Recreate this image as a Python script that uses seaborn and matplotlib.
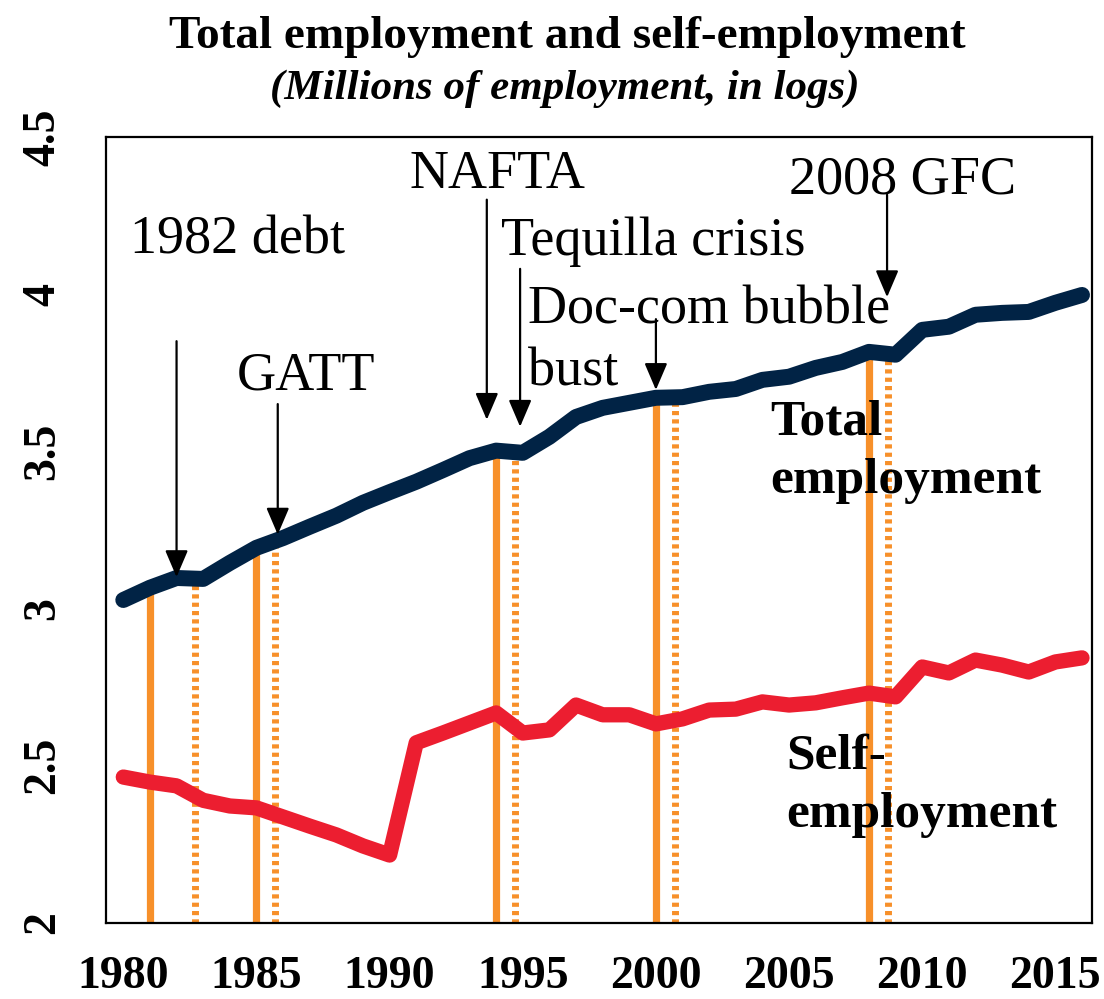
import matplotlib
matplotlib.use("Agg")
import matplotlib.pyplot as plt
import numpy as np
import pandas as pd
import seaborn as sns

years = list(range(1980, 2017))
total_emp = [3.027, 3.066, 3.097, 3.094, 3.145, 3.193, 3.224, 3.260, 3.295, 3.336,
             3.370, 3.403, 3.440, 3.478, 3.502, 3.495, 3.546, 3.609, 3.638, 3.654,
             3.670, 3.672, 3.689, 3.698, 3.727, 3.737, 3.765, 3.784, 3.816, 3.807,
             3.886, 3.896, 3.934, 3.940, 3.943, 3.972, 3.997]
self_emp = [2.464, 2.448, 2.436, 2.390, 2.372, 2.366, 2.337, 2.308, 2.280, 2.245,
            2.216, 2.573, 2.604, 2.636, 2.668, 2.604, 2.614, 2.693, 2.662, 2.662,
            2.633, 2.649, 2.677, 2.680, 2.703, 2.693, 2.700, 2.716, 2.731, 2.719,
            2.814, 2.795, 2.836, 2.820, 2.798, 2.830, 2.843]

# event markers: solid = start of shock, dotted = following year
shock_start = [1981, 1985, 1994, 2000, 2008]
shock_after = [1982.7, 1985.7, 1994.7, 2000.7, 2008.7]

# annotations: label, text position, arrow x, arrow start y, arrow tip y
events = [
    ("1982 debt", 1980.25, 4.17, 1982.0, 3.85, 3.10),
    ("GATT", 1984.27, 3.74, 1985.8, 3.65, 3.235),
    ("NAFTA", 1990.76, 4.38, 1993.65, 4.30, 3.60),
    ("Tequilla crisis", 1994.2, 4.166, 1994.9, 4.08, 3.578),
    ("Doc-com bubble\nbust", 1995.2, 3.85, 2000.0, 3.92, 3.695),
    ("2008 GFC", 2005.0, 4.363, 2008.68, 4.316, 3.99),
]

NAVY = "#012345"
RED = "#EC1E30"
ORANGE = "#F7902A"

sns.set_style("white")
plt.rcParams["font.family"] = ["Liberation Serif", "DejaVu Serif"]
plt.rcParams["text.color"] = "black"
plt.rcParams["xtick.color"] = "black"
plt.rcParams["ytick.color"] = "black"

df = pd.DataFrame({"year": years, "total": total_emp, "self": self_emp})

fig = plt.figure(figsize=(11.04, 9.99), dpi=100)
ax = fig.add_axes([0.096, 0.0761, 0.893, 0.787])

tops_start = np.interp(shock_start, years, total_emp)
tops_after = np.interp(shock_after, years, total_emp)
ax.vlines(shock_start, 2.0, tops_start, color=ORANGE, lw=5.2, zorder=1)
ax.vlines(shock_after, 2.0, tops_after, color=ORANGE, lw=5,
          linestyles=[(0, (0.6, 0.6))], zorder=1)

sns.lineplot(data=df, x="year", y="total", ax=ax, color=NAVY, lw=11.5,
             solid_capstyle="round", zorder=3)
sns.lineplot(data=df, x="year", y="self", ax=ax, color=RED, lw=11,
             solid_capstyle="round", zorder=3)

for label, tx, ty, ax_x, y0, y1 in events:
    ax.text(tx, ty, label, fontsize=39, ha="left", va="center",
            linespacing=1.3)
    ax.annotate("", xy=(ax_x, y1), xytext=(ax_x, y0),
                arrowprops=dict(arrowstyle="-|>,head_length=0.75,head_width=0.32",
                                color="black", lw=1.6, mutation_scale=22,
                                shrinkA=0, shrinkB=0))

ax.text(2004.3, 3.498, "Total\nemployment", fontsize=37, fontweight="bold",
        ha="left", va="center", linespacing=1.35)
ax.text(2004.9, 2.436, "Self-\nemployment", fontsize=37, fontweight="bold",
        ha="left", va="center", linespacing=1.35)

ax.set_xlim(1979.35, 2016.37)
ax.set_ylim(2, 4.5)
ax.set_xticks([1980, 1985, 1990, 1995, 2000, 2005, 2010, 2015])
ax.set_yticks([2, 2.5, 3, 3.5, 4, 4.5])
ax.set_yticklabels(["2", "2.5", "3", "3.5", "4", "4.5"])
ax.set_xlabel("")
ax.set_ylabel("")
ax.tick_params(axis="both", length=0, labelsize=33)
ax.tick_params(axis="x", pad=24)
ax.tick_params(axis="y", pad=30)
for lab in ax.get_xticklabels() + ax.get_yticklabels():
    lab.set_fontweight("bold")
for lab in ax.get_yticklabels():
    lab.set_rotation(90)
    lab.set_va("center")
for sp in ax.spines.values():
    sp.set_color("black")
    sp.set_linewidth(1.6)

fig.text(0.514, 0.963, "Total employment and self-employment", fontsize=34,
         fontweight="bold", ha="center", va="center")
fig.text(0.512, 0.911, "(Millions of employment, in logs)", fontsize=31,
         fontweight="bold", fontstyle="italic", ha="center", va="center")

fig.savefig("out.png", dpi=100)
